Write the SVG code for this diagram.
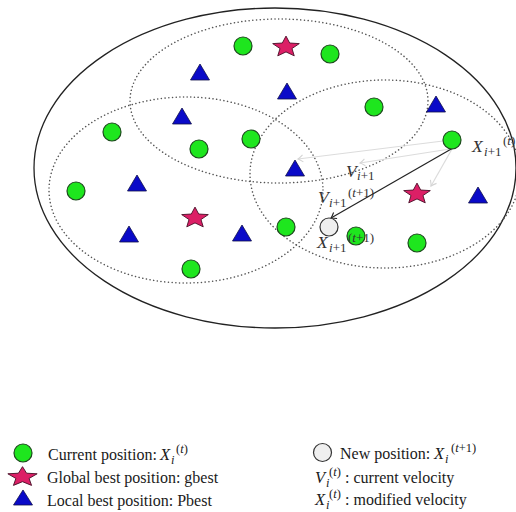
<svg xmlns="http://www.w3.org/2000/svg" width="516" height="512" viewBox="0 0 516 512">
<defs>
<style>
.outer{fill:none;stroke:#222;stroke-width:1.3}
.dot{fill:none;stroke:#555;stroke-width:1.5;stroke-dasharray:0.1 3.6;stroke-linecap:round}
.g{fill:#1ee61e;stroke:#1d4a1d;stroke-width:1.2}
.n{fill:#efefef;stroke:#333;stroke-width:1.2}
.t{fill:#0a0ac8;stroke:#10104a;stroke-width:0.8}
.s{fill:#dc1f66;stroke:#4a1028;stroke-width:0.9}
.m{font-family:"Liberation Serif",serif;fill:#333;font-size:17.5px;font-style:italic}
.ms{font-family:"Liberation Serif",serif;fill:#333;font-size:13px}
.lg{font-family:"Liberation Serif",serif;fill:#1a1a1a;font-size:16px}
.lgi{font-family:"Liberation Serif",serif;fill:#1a1a1a;font-size:16.5px;font-style:italic}
.lgs{font-family:"Liberation Serif",serif;fill:#1a1a1a;font-size:12.5px}
.it{font-style:italic}
.ga{fill:none;stroke:#dcdcdc;stroke-width:1.2}
.ba{fill:none;stroke:#222;stroke-width:1.2}
</style>
<path id="star" d="M0,-10.9 L3.7,-3.98 L13.31,-3.38 L5.99,1.52 L8.23,8.84 L0,4.91 L-8.23,8.84 L-5.99,1.52 L-13.31,-3.38 L-3.7,-3.98 Z"/>
<path id="tri" d="M0,-8 L9.5,8 L-9.5,8 Z"/>
<marker id="ahb" markerWidth="10" markerHeight="10" viewBox="-6 -5 8 10" refX="0" refY="0" orient="auto" markerUnits="userSpaceOnUse">
<path d="M-5,-3.5 Q-1.5,-0.6 0,0 Q-1.5,0.6 -5,3.5" fill="none" stroke="#222" stroke-width="1.1"/>
</marker>
<marker id="ahg" markerWidth="10" markerHeight="10" viewBox="-6 -5 8 10" refX="0" refY="0" orient="auto" markerUnits="userSpaceOnUse">
<path d="M-5,-3.5 Q-1.5,-0.6 0,0 Q-1.5,0.6 -5,3.5" fill="none" stroke="#d4d4d4" stroke-width="1.1"/>
</marker>
</defs>
<rect width="516" height="512" fill="#fff"/>

<g id="regions">
<ellipse class="outer" cx="275" cy="168" rx="241" ry="160"/>
<ellipse class="dot" cx="279" cy="101" rx="149" ry="82"/>
<ellipse class="dot" cx="186" cy="190" rx="137" ry="93"/>
<ellipse class="dot" cx="385" cy="174" rx="135" ry="94"/>
</g>

<g id="connectors">
<line class="ga" x1="443" y1="141" x2="298" y2="159" marker-end="url(#ahg)"/>
<line class="ga" x1="450" y1="149" x2="360" y2="163" marker-end="url(#ahg)"/>
<line class="ga" x1="452" y1="149" x2="431" y2="186" marker-end="url(#ahg)"/>
<line class="ba" x1="453" y1="148" x2="331" y2="218" marker-end="url(#ahb)"/>
</g>

<g id="p1"><circle class="g" cx="243" cy="46" r="9"/></g>
<g id="p2"><circle class="g" cx="330" cy="54" r="9"/></g>
<g id="p3"><circle class="g" cx="374" cy="107" r="9"/></g>
<g id="p4"><circle class="g" cx="452" cy="140" r="9"/></g>
<g id="p5"><circle class="g" cx="112" cy="132" r="9"/></g>
<g id="p6"><circle class="g" cx="199" cy="149" r="9"/></g>
<g id="p7"><circle class="g" cx="251" cy="139" r="9"/></g>
<g id="p8"><circle class="g" cx="76" cy="191" r="9"/></g>
<g id="p9"><circle class="g" cx="286" cy="227" r="9"/></g>
<g id="p10"><circle class="g" cx="356" cy="236" r="9"/></g>
<g id="p11"><circle class="g" cx="417" cy="243" r="9"/></g>
<g id="p12"><circle class="g" cx="191" cy="269" r="9"/></g>
<g id="newpos"><circle class="n" cx="329" cy="227" r="9"/></g>

<g id="l1"><use href="#tri" class="t" x="200" y="72"/></g>
<g id="l2"><use href="#tri" class="t" x="287" y="91"/></g>
<g id="l3"><use href="#tri" class="t" x="182" y="116"/></g>
<g id="l4"><use href="#tri" class="t" x="436" y="104"/></g>
<g id="l5"><use href="#tri" class="t" x="295" y="168"/></g>
<g id="l6"><use href="#tri" class="t" x="137" y="183"/></g>
<g id="l7"><use href="#tri" class="t" x="478" y="195"/></g>
<g id="l8"><use href="#tri" class="t" x="129" y="234"/></g>
<g id="l9"><use href="#tri" class="t" x="242" y="233"/></g>

<g id="g1"><use href="#star" class="s" x="286" y="47"/></g>
<g id="g2"><use href="#star" class="s" x="195" y="218"/></g>
<g id="g3"><use href="#star" class="s" x="417" y="194"/></g>

<g id="labels">
<text class="m" x="472" y="152">X</text>
<text class="ms" x="484" y="156"><tspan class="it">i</tspan>+1</text>
<text class="ms" x="503" y="145">(<tspan class="it">t</tspan>)</text>

<text class="m" x="346" y="177">V</text>
<text class="ms" x="357" y="180"><tspan class="it">i</tspan>+1</text>

<text class="m" x="318" y="203">V</text>
<text class="ms" x="329" y="207"><tspan class="it">i</tspan>+1</text>
<text class="ms" x="348" y="197">(<tspan class="it">t</tspan>+1)</text>

<text class="m" x="317" y="248">X</text>
<text class="ms" x="329" y="252"><tspan class="it">i</tspan>+1</text>
<text class="ms" x="348" y="242">(<tspan class="it">t</tspan>+1)</text>
</g>

<g id="legend">
<circle class="g" cx="23" cy="453" r="9"/>
<text class="lg" x="48" y="460">Current position:</text>
<text class="lgi" x="160" y="460">X</text>
<text class="lgs it" x="171" y="464">i</text>
<text class="lgs" x="176" y="453">(<tspan class="it">t</tspan>)</text>

<use href="#star" class="s" transform="translate(22.5,477) scale(1.1,0.95)"/>
<text class="lg" x="47" y="483">Global best position: gbest</text>

<use href="#tri" class="t" transform="translate(23,497.5) scale(1,0.94)"/>
<text class="lg" x="47" y="506">Local best position: Pbest</text>

<circle class="n" cx="322.5" cy="452.5" r="9"/>
<text class="lg" x="340" y="459">New position:</text>
<text class="lgi" x="434" y="459">X</text>
<text class="lgs it" x="445" y="463">i</text>
<text class="lgs" x="451" y="452">(<tspan class="it">t</tspan>+1)</text>

<text class="lgi" x="315" y="483">V</text>
<text class="lgs it" x="326" y="487">i</text>
<text class="lgs" x="329" y="476">(<tspan class="it">t</tspan>)</text>
<text class="lg" x="345" y="483">: current velocity</text>

<text class="lgi" x="315" y="505">X</text>
<text class="lgs it" x="326" y="509">i</text>
<text class="lgs" x="329" y="498">(<tspan class="it">t</tspan>)</text>
<text class="lg" x="345" y="505">: modified velocity</text>
</g>
</svg>
